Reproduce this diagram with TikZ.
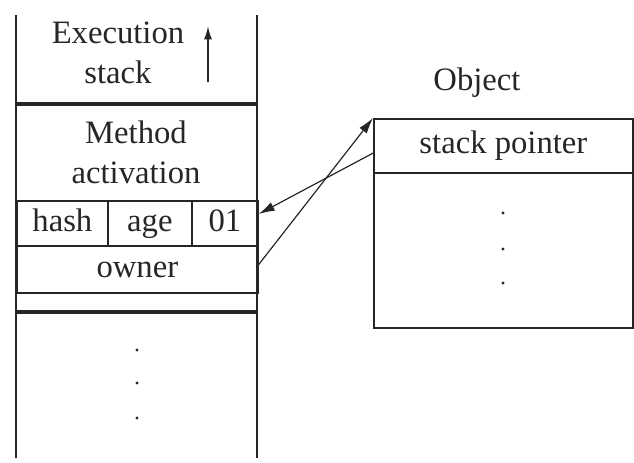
\documentclass[tikz,border=0pt]{standalone}
\usepackage{fontspec}
\setmainfont{Liberation Serif}
\usetikzlibrary{arrows.meta, positioning, calc}

\begin{document}
\begin{tikzpicture}[
    x=0.75pt, y=-0.75pt,
    color=black!85,
    font=\fontsize{24.5}{30}\selectfont,
    cell/.style={rectangle, draw, line width=1.3pt, inner sep=0pt, anchor=north west,
      text height=17pt, text depth=5pt},
    caption/.style={inner sep=0pt, align=center},
    thinline/.style={line width=1.3pt},
    thickline/.style={line width=3pt},
    pointer/.style={-{Latex[length=12pt, width=7pt]}, line width=0.9pt},
    dot/.style={circle, fill, inner sep=0pt, minimum size=2.5pt}
  ]
  \useasboundingbox (0,0) rectangle (634,462);

  % execution stack
  \draw[thinline] (16,15) -- (16,458);
  \draw[thinline] (257,15) -- (257,458);
  \draw[thickline] (16,104) -- (257,104);
  \draw[thickline] (16,312) -- (257,312);

  \node[caption] (exec) at (118,53) {Execution\\stack};
  \coordinate (grow-from) at (208,82);
  \coordinate (grow-to) at (208,26);
  \draw[-{Latex[length=10pt, width=6pt]}, thinline] (grow-from) -- (grow-to);

  \node[caption] (method) at (136,152) {Method\\activation};

  \node[cell, minimum width=68.25pt, minimum height=33.75pt] (hash) at (16,200) {hash};
  \node[cell, minimum width=63pt, minimum height=33.75pt] (age) at (107,200) {age};
  \node[cell, minimum width=49.5pt, minimum height=33.75pt] (flag) at (191,200) {01};
  \node[cell, minimum width=180.75pt, minimum height=35.25pt] (owner) at (16,245) {owner};

  \foreach \y in {350,383,418}
    \node[dot] at (137,\y) {};

  % object
  \node[cell, minimum width=194.25pt, minimum height=40.5pt] (sp) at (373,118) {stack pointer};
  \node[cell, minimum width=194.25pt, minimum height=116.25pt] (body) at (373,172) {};
  \node[caption] (object) at (477,83) {Object};

  \foreach \y in {213,249,283}
    \node[dot] at (503,\y) {};

  % pointers
  \draw[pointer] ($(owner.north east)!0.4!(owner.south east)$) -- (sp.north west);
  \draw[pointer] ($(sp.north west)!0.63!(sp.south west)$) -- ($(flag.north east)!0.3!(flag.south east)$);
\end{tikzpicture}
\end{document}
